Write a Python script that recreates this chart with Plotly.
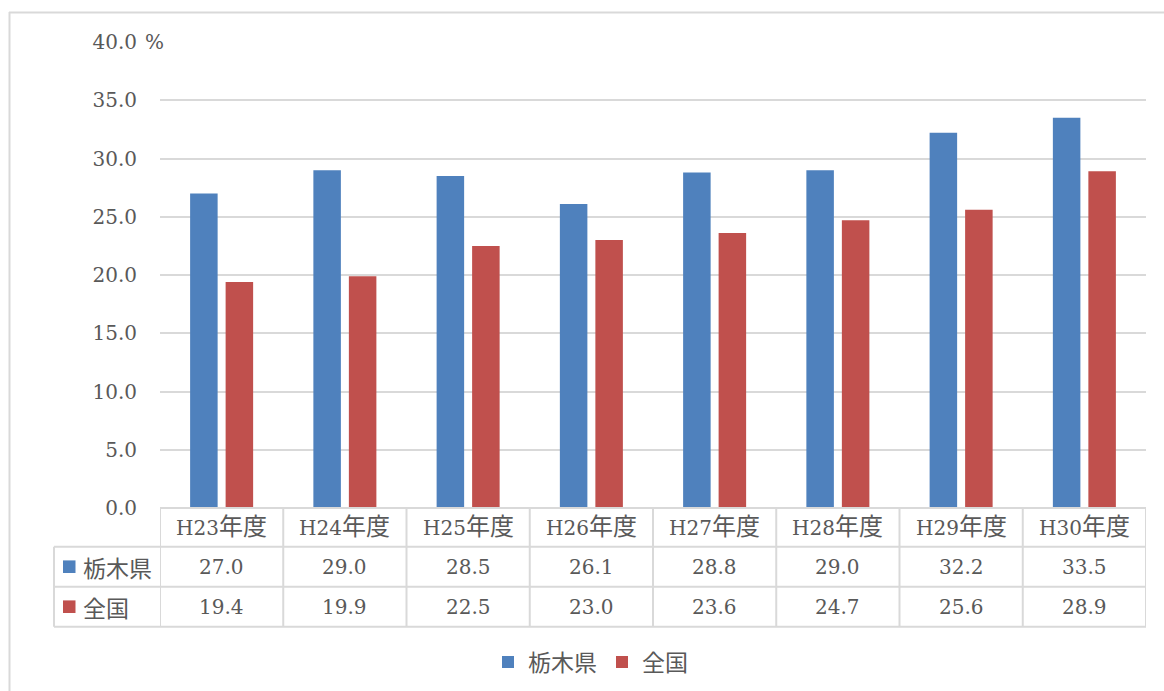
import plotly.graph_objects as go

# 年度別の割合（%）
years = ["H23年度", "H24年度", "H25年度", "H26年度", "H27年度", "H28年度", "H29年度", "H30年度"]
tochigi = [27.0, 29.0, 28.5, 26.1, 28.8, 29.0, 32.2, 33.5]
zenkoku = [19.4, 19.9, 22.5, 23.0, 23.6, 24.7, 25.6, 28.9]
series_names = ["栃木県", "全国"]
series_colors = ["#4f81bd", "#c0504d"]

W, H = 1164, 691
PLOT_L, PLOT_R, PLOT_T, PLOT_B = 160, 1146, 42, 508
TEXT = "#595959"
LINE = "#d9d9d9"
SERIF = "DejaVu Serif, Noto Sans CJK JP, serif"
CJK = "Noto Sans CJK JP, sans-serif"


def py(p):
    """pixel row -> paper y"""
    return (PLOT_B - p) / (PLOT_B - PLOT_T)


def px(p):
    """pixel column -> paper x"""
    return (p - PLOT_L) / (PLOT_R - PLOT_L)


idx = list(range(len(years)))
fig = go.Figure()
for name, vals, col in zip(series_names, [tochigi, zenkoku], series_colors):
    fig.add_trace(go.Bar(x=idx, y=vals, name=name, marker_color=col,
                         marker_line_width=0, hoverinfo="y"))

shapes = []
annotations = []

# data table under the plot
row_edges = [PLOT_B, 546.7, 586.7, 626.7]
label_left = 54
# horizontal rules
shapes.append(dict(type="line", xref="paper", yref="paper", x0=0, x1=1,
                   y0=py(row_edges[0]), y1=py(row_edges[0]),
                   line=dict(color=LINE, width=2)))
for r in row_edges[1:]:
    shapes.append(dict(type="line", xref="paper", yref="paper", x0=px(label_left), x1=1,
                       y0=py(r), y1=py(r), line=dict(color=LINE, width=2)))
# vertical rules
shapes.append(dict(type="line", xref="paper", yref="paper", x0=px(label_left), x1=px(label_left),
                   y0=py(row_edges[1]), y1=py(row_edges[3]), line=dict(color=LINE, width=2)))
for k in range(len(years) + 1):
    shapes.append(dict(type="line", xref="x", yref="paper", x0=k - 0.5, x1=k - 0.5,
                       y0=py(row_edges[0]), y1=py(row_edges[3]),
                       line=dict(color=LINE, width=2)))

# header row and value rows
for i, yr in enumerate(years):
    annotations.append(dict(
        x=i, y=py((row_edges[0] + row_edges[1]) / 2), xref="x", yref="paper",
        text=f"{yr[:3]}<span style='font-size:24px'>{yr[3:]}</span>", showarrow=False,
        font=dict(family=SERIF, size=20, color=TEXT), xanchor="center", yanchor="middle"))
    for r, vals in enumerate([tochigi, zenkoku]):
        annotations.append(dict(
            x=i, y=py((row_edges[r + 1] + row_edges[r + 2]) / 2), xref="x", yref="paper",
            text=f"{vals[i]:.1f}", showarrow=False,
            font=dict(family=SERIF, size=20, color=TEXT), xanchor="center", yanchor="middle"))

# row labels with colour keys
for r, (name, col) in enumerate(zip(series_names, series_colors)):
    yc = (row_edges[r + 1] + row_edges[r + 2]) / 2
    shapes.append(dict(type="rect", xref="paper", yref="paper",
                       x0=px(63), x1=px(75.5), y0=py(yc - 6.3), y1=py(yc + 6.3),
                       fillcolor=col, line=dict(width=0)))
    annotations.append(dict(
        x=px(81), y=py(yc), xref="paper", yref="paper", text=name, showarrow=False,
        font=dict(family=CJK, size=23, color=TEXT), xanchor="left", yanchor="middle"))

# unit label beside the top tick
annotations.append(dict(x=px(143), y=1, xref="paper", yref="paper", text="%",
                        showarrow=False, font=dict(family=SERIF, size=20, color=TEXT),
                        xanchor="left", yanchor="middle"))

# outer frame (top and left edges)
shapes.append(dict(type="line", xref="paper", yref="paper", x0=px(9), x1=px(W + 5),
                   y0=py(12.5), y1=py(12.5), line=dict(color=LINE, width=2)))
shapes.append(dict(type="line", xref="paper", yref="paper", x0=px(9.5), x1=px(9.5),
                   y0=py(12), y1=py(H + 5), line=dict(color=LINE, width=2)))

fig.update_layout(
    width=W, height=H,
    margin=dict(l=PLOT_L, r=W - PLOT_R, t=PLOT_T, b=H - PLOT_B, pad=0),
    paper_bgcolor="white", plot_bgcolor="white",
    barmode="group", bargap=0.424, bargroupgap=0.225,
    showlegend=True,
    legend=dict(orientation="h", xref="container", yref="container",
                x=488 / W, xanchor="left", y=(H - 662) / H, yanchor="middle",
                font=dict(family=CJK, size=23, color=TEXT), bgcolor="rgba(0,0,0,0)"),
    xaxis=dict(range=[-0.5, len(years) - 0.5], showticklabels=False, showgrid=False,
               zeroline=False, showline=False, ticks=""),
    yaxis=dict(range=[0, 40], dtick=5, tickformat=".1f", showgrid=True,
               gridcolor=LINE, gridwidth=2, zeroline=False, showline=False,
               ticks="", ticklabelstandoff=22,
               tickfont=dict(family=SERIF, size=20, color=TEXT)),
    shapes=shapes, annotations=annotations,
)
fig.update_traces(cliponaxis=False)

fig.write_html("out.html")
